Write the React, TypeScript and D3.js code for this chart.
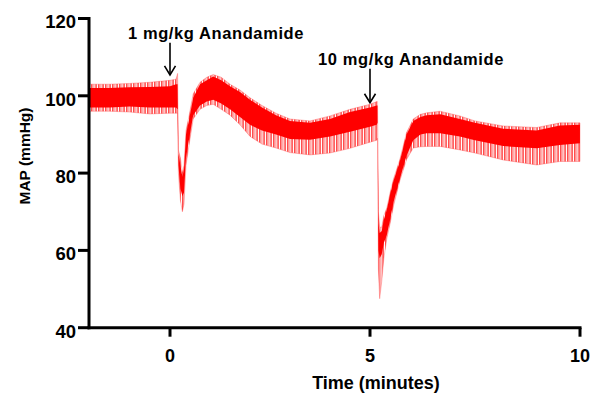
import * as d3 from 'd3'

// MAP trace: outer envelope (spike tips) and the dense core band
const timeMin = [
  -2, -1.5, -1, -0.5, 0, 0.15, 0.19, 0.21, 0.26, 0.31, 0.35, 0.4, 0.48, 0.58, 0.75, 0.92, 1.08,
  1.28, 1.5, 1.75, 2, 2.3, 2.65, 3, 3.5, 4, 4.5, 5, 5.16, 5.18, 5.2, 5.23, 5.28, 5.33, 5.4, 5.48,
  5.56, 5.71, 5.87, 6.03, 6.2, 6.35, 6.67, 7.14, 7.5, 8.17, 8.97, 9.52, 10,
]
const mapHigh = [
  103, 103, 103.2, 103.5, 104, 104.3, 105.8, 86, 84, 80, 82, 91, 95, 100.5, 103.5, 104.8, 105.5,
  104.8, 103, 101.5, 99.5, 97.5, 95.5, 94, 93.5, 94.8, 96.5, 97.8, 98.5, 98.5, 70, 66, 66, 69, 71, 75,
  78.5, 83.5, 90.5, 94, 95.2, 95.6, 96, 94.8, 93.5, 92.2, 91.8, 93, 93,
]
const mapCoreHigh = [
  102, 102, 102.2, 102.3, 102.5, 103, 103, 85, 82, 79, 81, 90, 94, 99.5, 103, 104, 105,
  104, 102.5, 101, 99, 97, 95, 93.5, 93, 94, 95.8, 97, 97.5, 97.5, 67, 64.5, 65, 68, 70.5, 74.5,
  78, 83, 90, 93.5, 94.5, 95, 95.2, 94, 93, 91.5, 91, 92.3, 92.5,
]
const mapCoreLow = [
  97, 97, 97.2, 97, 97, 97, 96.5, 82, 76, 74, 75, 84, 89, 95, 97.5, 98.5, 99,
  98, 96.5, 94.5, 92.5, 91, 90, 88.8, 88.6, 89.5, 90.7, 92, 92.5, 93, 60, 58, 59, 62, 64, 68,
  72.5, 78.5, 84.5, 88.5, 90, 90.3, 90.3, 89.5, 88.5, 87, 86.4, 87.3, 87.7,
]
const mapLow = [
  96, 96, 95.8, 95.3, 95.5, 95.5, 95.5, 80, 73, 70, 72, 82, 87.5, 94, 96.5, 97.5, 97.8,
  96.5, 95, 92.5, 89.5, 87.5, 86.5, 85.3, 84.7, 85.2, 86.4, 88, 88.5, 89, 55, 47.5, 52, 58, 63, 67,
  71.5, 78, 83.5, 86.5, 86.8, 86.9, 86.9, 86, 85.2, 83.4, 82.1, 83, 83,
]

const yTicks = [40, 60, 80, 100, 120]
const xTicks = [0, 5, 10]
const doseTimes = [0, 5]
const doseLabels = ['1 mg/kg Anandamide', '10 mg/kg Anandamide']

const FONT = 'Liberation Sans, Arial, sans-serif'

export default function App() {
  const width = 592
  const height = 395

  // the recording's time axis is slightly uneven between 0-5 and 5-10 min
  const x = d3.scaleLinear().domain([-2, 0, 5, 10]).range([89, 170, 370, 580])
  const y = d3.scaleLinear().domain([40, 120]).range([327.7, 18.5])

  const idx = d3.range(timeMin.length)

  const outerArea = d3.area<number>()
    .x(i => x(timeMin[i]))
    .y0(i => y(mapLow[i]))
    .y1(i => y(mapHigh[i]))

  const coreArea = d3.area<number>()
    .x(i => x(timeMin[i]))
    .y0(i => y(mapCoreLow[i]))
    .y1(i => y(mapCoreHigh[i]))

  const x0 = x.range()[0]
  const x1 = x.range()[x.range().length - 1]
  const yBottom = y(40)
  const yTop = y(120)

  // arrow tips sit just above the trace at each dose
  const arrowTips = [105.4, 98.2]
  const arrowTops = [113.7, 107]
  const labelX = [216, 411]
  const labelY = [39, 65]

  return (
    <svg
      width={width}
      height={height}
      style={{ position: 'absolute', left: 0, top: 0, background: '#fff' }}
      fontFamily={FONT}
    >
      <defs>
        <pattern id="spikes" width={7} height={10} patternUnits="userSpaceOnUse">
          <rect x={0} y={0} width={1.6} height={10} fill="#ff4d4d" />
          <rect x={2.3} y={0} width={1.2} height={10} fill="#ff8c8c" />
          <rect x={4.2} y={0} width={1.8} height={10} fill="#ff6262" />
        </pattern>
      </defs>

      {/* trace */}
      <path d={outerArea(idx) || ''} fill="url(#spikes)" />
      <path d={coreArea(idx) || ''} fill="#ff0000" />
      <path d={outerArea(idx) || ''} fill="none" stroke="#ff2a2a" strokeWidth={0.6} strokeOpacity={0.5} />

      {/* y axis */}
      <line x1={x0} x2={x0} y1={yTop - 1.5} y2={yBottom + 1.5} stroke="#000" strokeWidth={3} />
      {yTicks.map(t => (
        <g key={t}>
          <line x1={x0 - 11} x2={x0} y1={y(t)} y2={y(t)} stroke="#000" strokeWidth={3} />
          <text
            x={76}
            y={y(t) + 9.8}
            textAnchor="end"
            fontSize={18.5}
            fontWeight="bold"
          >
            {t}
          </text>
        </g>
      ))}

      {/* x axis */}
      <line x1={x0 - 1.5} x2={x1 + 1.5} y1={yBottom} y2={yBottom} stroke="#000" strokeWidth={3} />
      {xTicks.map(t => (
        <g key={t}>
          <line x1={x(t)} x2={x(t)} y1={yBottom} y2={yBottom + 9} stroke="#000" strokeWidth={3} />
          <text x={x(t)} y={361.7} textAnchor="middle" fontSize={18} fontWeight="bold">
            {t}
          </text>
        </g>
      ))}

      {/* axis titles */}
      <text x={376} y={389} textAnchor="middle" fontSize={18} fontWeight="bold">
        Time (minutes)
      </text>
      <text
        transform={`translate(29.5,156) rotate(-90)`}
        textAnchor="middle"
        fontSize={15.5}
        fontWeight="bold"
      >
        MAP (mmHg)
      </text>

      {/* dose annotations */}
      {doseTimes.map((t, i) => {
        const ax = x(t)
        const tip = y(arrowTips[i])
        return (
          <g key={t}>
            <text
              x={labelX[i]}
              y={labelY[i]}
              textAnchor="middle"
              fontSize={16.5}
              fontWeight="bold"
              letterSpacing={0.6}
            >
              {doseLabels[i]}
            </text>
            <line x1={ax} x2={ax} y1={y(arrowTops[i])} y2={tip} stroke="#000" strokeWidth={1.6} />
            <polyline
              points={`${ax - 5.5},${tip - 9} ${ax},${tip} ${ax + 5.5},${tip - 9}`}
              fill="none"
              stroke="#000"
              strokeWidth={1.6}
            />
          </g>
        )
      })}
    </svg>
  )
}
